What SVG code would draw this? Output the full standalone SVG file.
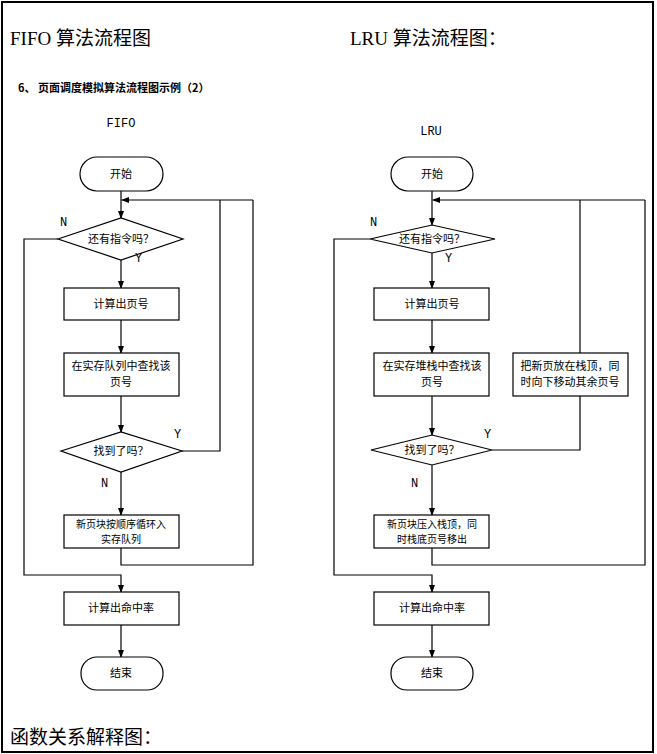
<svg xmlns="http://www.w3.org/2000/svg" width="657" height="754" viewBox="0 0 657 754">
<style>
.s{fill:#fff;stroke:#000;stroke-width:1.2}
.c{fill:none;stroke:#000;stroke-width:1.2}
.t{font-family:"Noto Sans CJK SC","Liberation Sans",sans-serif;font-size:11px;text-anchor:middle;fill:#000}
.u{font-family:"Noto Sans CJK SC","Liberation Sans",sans-serif;font-size:10px;text-anchor:middle;fill:#000}
.l{font-family:"Liberation Mono","Noto Sans CJK SC",monospace;font-size:12px;fill:#000}
.h{font-family:"Liberation Serif","Noto Sans CJK SC",serif;font-size:19px;fill:#000}
</style>
<defs><marker id="a" markerWidth="8" markerHeight="8" refX="7" refY="4" orient="auto" markerUnits="userSpaceOnUse"><path d="M0,1 L8,4 L0,7 z" fill="#000"/></marker></defs>
<rect x="2" y="2" width="651" height="750" fill="#fff" stroke="#000" stroke-width="2"/>
<text class="h" x="10" y="45">FIFO 算法流程图</text>
<text class="h" x="350" y="45">LRU 算法流程图：</text>
<text x="18" y="92" style="font-family:'Noto Sans CJK SC',sans-serif;font-size:11px;font-weight:bold">6、 页面调度模拟算法流程图示例（2）</text>
<text class="l" x="121" y="127" text-anchor="middle">FIFO</text>
<text class="l" x="431" y="135" text-anchor="middle">LRU</text>
<g id="connectors">
<path class="c" d="M121,191 V218" marker-end="url(#a)"/>
<path class="c" d="M253,200 H122" marker-end="url(#a)"/>
<path class="c" d="M121,260 V288" marker-end="url(#a)"/>
<path class="c" d="M121,320 V353" marker-end="url(#a)"/>
<path class="c" d="M121,396 V432" marker-end="url(#a)"/>
<path class="c" d="M182,451 H220 V200"/>
<path class="c" d="M121,472 V515" marker-end="url(#a)"/>
<path class="c" d="M121,548 V565 H253 V200"/>
<path class="c" d="M58,239 H24 V575 H121 V592" marker-end="url(#a)"/>
<path class="c" d="M121,625 V657" marker-end="url(#a)"/>
<path class="c" d="M432,191 V225" marker-end="url(#a)"/>
<path class="c" d="M645,200 H433" marker-end="url(#a)"/>
<path class="c" d="M432,253 V288" marker-end="url(#a)"/>
<path class="c" d="M432,320 V353" marker-end="url(#a)"/>
<path class="c" d="M432,396 V435" marker-end="url(#a)"/>
<path class="c" d="M492,450 H580 V396"/>
<path class="c" d="M580,353 V200"/>
<path class="c" d="M432,465 V515" marker-end="url(#a)"/>
<path class="c" d="M432,548 V565 H645 V200"/>
<path class="c" d="M370,239 H334 V575 H432 V592" marker-end="url(#a)"/>
<path class="c" d="M432,625 V657" marker-end="url(#a)"/>
</g>
<g id="fifo-start"><rect class="s" x="80" y="157" width="83" height="34" rx="17"/><text class="t" x="121" y="178">开始</text></g>
<g id="fifo-d1"><path class="s" d="M58,239 L121,218 L183,239 L121,260 z"/><text class="t" x="121" y="243">还有指令吗？</text></g>
<g id="fifo-b1"><rect class="s" x="64" y="288" width="115" height="32"/><text class="t" x="121" y="308">计算出页号</text></g>
<g id="fifo-b2"><rect class="s" x="64" y="353" width="115" height="43"/><text class="t" x="121" y="370">在实存队列中查找该</text><text class="t" x="121" y="386">页号</text></g>
<g id="fifo-d2"><path class="s" d="M61,451 L121,432 L182,451 L121,472 z"/><text class="t" x="121" y="455">找到了吗？</text></g>
<g id="fifo-b3"><rect class="s" x="64" y="515" width="115" height="33"/><text class="u" x="121" y="528">新页块按顺序循环入</text><text class="u" x="121" y="543">实存队列</text></g>
<g id="fifo-b4"><rect class="s" x="64" y="592" width="115" height="33"/><text class="t" x="121" y="612">计算出命中率</text></g>
<g id="fifo-end"><rect class="s" x="81" y="657" width="82" height="33" rx="16"/><text class="t" x="121" y="677">结束</text></g>
<g id="lru-start"><rect class="s" x="391" y="157" width="82" height="34" rx="17"/><text class="t" x="432" y="178">开始</text></g>
<g id="lru-d1"><path class="s" d="M370,239 L432,225 L495,239 L432,253 z"/><text class="t" x="432" y="243">还有指令吗？</text></g>
<g id="lru-b1"><rect class="s" x="374" y="288" width="115" height="32"/><text class="t" x="432" y="308">计算出页号</text></g>
<g id="lru-b2"><rect class="s" x="374" y="353" width="115" height="43"/><text class="t" x="432" y="370">在实存堆栈中查找该</text><text class="t" x="432" y="386">页号</text></g>
<g id="lru-side"><rect class="s" x="513" y="353" width="115" height="43"/><text class="t" x="570" y="370">把新页放在栈顶，同</text><text class="t" x="570" y="386">时向下移动其余页号</text></g>
<g id="lru-d2"><path class="s" d="M371,450 L432,435 L492,450 L432,465 z"/><text class="t" x="432" y="454">找到了吗？</text></g>
<g id="lru-b3"><rect class="s" x="374" y="515" width="115" height="33"/><text class="u" x="432" y="528">新页块压入栈顶，同</text><text class="u" x="432" y="543">时栈底页号移出</text></g>
<g id="lru-b4"><rect class="s" x="374" y="592" width="115" height="33"/><text class="t" x="432" y="612">计算出命中率</text></g>
<g id="lru-end"><rect class="s" x="391" y="657" width="82" height="33" rx="16"/><text class="t" x="432" y="677">结束</text></g>
<g id="labels">
<text class="l" x="60" y="226">N</text><text class="l" x="135" y="262">Y</text>
<text class="l" x="174" y="438">Y</text><text class="l" x="101" y="487">N</text>
<text class="l" x="370" y="226">N</text><text class="l" x="445" y="262">Y</text>
<text class="l" x="484" y="438">Y</text><text class="l" x="411" y="487">N</text>
</g>
<text class="h" x="10" y="744">函数关系解释图：</text>
</svg>
